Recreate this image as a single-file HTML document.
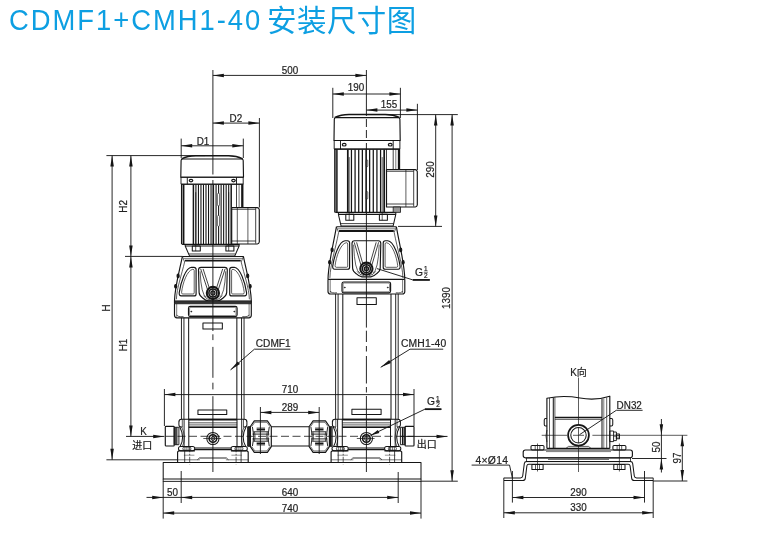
<!DOCTYPE html>
<html lang="zh-CN">
<head>
<meta charset="utf-8">
<title>CDMF1+CMH1-40 安装尺寸图</title>
<style>
html,body{margin:0;padding:0;background:#fff;}
body{width:780px;height:543px;overflow:hidden;position:relative;font-family:"Liberation Sans","Noto Sans CJK SC",sans-serif;}
h1{position:absolute;left:0;top:0;margin:0;font-weight:400;color:#0d9fe2;white-space:nowrap;width:780px;height:40px;}
h1 span{position:absolute;display:block;line-height:32px;height:32px;will-change:transform;}
h1 .la{left:9.3px;top:4.6px;font-size:27.4px;letter-spacing:1.97px;transform:scale(1,1.1);transform-origin:0 25.4px;}
h1 .cj{left:266.7px;top:4.9px;font-size:29.5px;letter-spacing:0.45px;}
svg{position:absolute;left:0;top:0;display:block;will-change:transform;}
svg *{vector-effect:none;}
.d{fill:none;stroke:#151515;stroke-width:0.92;stroke-linecap:butt;stroke-linejoin:round;}
.d .a{fill:#151515;stroke:none;}
.d text{fill:#222;stroke:#222;stroke-width:0.22;font-family:"Liberation Sans","Noto Sans CJK SC",sans-serif;}
</style>
</head>
<body>
<h1><span class="la">CDMF1+CMH1-40</span><span class="cj">安装尺寸图</span></h1>
<svg width="780" height="543" viewBox="0 0 780 543">
<g class="d">
<g class="pumps">
<path d="M180.8,177.2 L181.1,160.6 Q181.1,159 182.7,159 L241.6,159 Q243.2,159 243.2,160.6 L243.5,177.2 Z" stroke-width="1.15"/>
<path d="M181.6,158.8 C185.8,156.8 189.8,155.9 195.8,155.8 L228.5,155.8 C234.5,155.9 238.5,156.8 242.7,158.8" stroke-width="1.49"/>
<rect x="181" y="177.2" width="62.2" height="7" stroke-width="0.92"/>
<line x1="187.3" y1="177.2" x2="187.3" y2="184.2" stroke-width="0.92"/>
<line x1="236.5" y1="177.2" x2="236.5" y2="184.2" stroke-width="0.92"/>
<ellipse cx="191" cy="180.6" rx="1.8" ry="1.25" stroke-width="1.15"/>
<ellipse cx="233.5" cy="180.6" rx="1.8" ry="1.25" stroke-width="1.15"/>
<line x1="181" y1="184.2" x2="243.2" y2="184.2" stroke-width="1.15"/>
<line x1="181.7" y1="184.2" x2="181.7" y2="244.3" stroke-width="1.49"/>
<line x1="183.7" y1="184.2" x2="183.7" y2="244.3" stroke-width="1.49"/>
<line x1="236.5" y1="184.2" x2="236.5" y2="207.6" stroke-width="0.8"/>
<line x1="239.1" y1="184.2" x2="239.1" y2="207.6" stroke-width="0.57"/>
<line x1="242.3" y1="184.2" x2="242.3" y2="207.6" stroke-width="2.3"/>
<line x1="193.4" y1="184.6" x2="193.4" y2="244" stroke-width="1.49"/>
<line x1="195.92" y1="184.6" x2="195.92" y2="244" stroke-width="1.09"/>
<line x1="198.44" y1="184.6" x2="198.44" y2="244" stroke-width="1.09"/>
<line x1="200.96" y1="184.6" x2="200.96" y2="244" stroke-width="1.09"/>
<line x1="203.48" y1="184.6" x2="203.48" y2="244" stroke-width="1.09"/>
<line x1="206" y1="184.6" x2="206" y2="244" stroke-width="1.09"/>
<line x1="208.52" y1="184.6" x2="208.52" y2="244" stroke-width="1.09"/>
<line x1="211.04" y1="184.6" x2="211.04" y2="244" stroke-width="1.09"/>
<line x1="213.56" y1="184.6" x2="213.56" y2="244" stroke-width="1.09"/>
<line x1="216.08" y1="184.6" x2="216.08" y2="244" stroke-width="1.09"/>
<line x1="218.6" y1="184.6" x2="218.6" y2="244" stroke-width="1.09"/>
<line x1="221.12" y1="184.6" x2="221.12" y2="244" stroke-width="1.09"/>
<line x1="223.64" y1="184.6" x2="223.64" y2="244" stroke-width="1.09"/>
<line x1="226.16" y1="184.6" x2="226.16" y2="244" stroke-width="1.09"/>
<line x1="228.68" y1="184.6" x2="228.68" y2="244" stroke-width="1.09"/>
<line x1="231.2" y1="184.6" x2="231.2" y2="244" stroke-width="1.49"/>
<rect x="217.5" y="193.22" width="2" height="12.62" rx="0.9" stroke-width="0.57" fill="#fff"/>
<rect x="217.5" y="215.45" width="2" height="10.82" rx="0.9" stroke-width="0.57" fill="#fff"/>
<line x1="182.1" y1="244.3" x2="239.5" y2="244.3" stroke-width="1.15"/>
<path d="M231.7,207.6 L257.3,207.6 Q259,207.9 259.3,209.6 L259.3,242 Q259,243.7 257.3,244 L231.7,244 Z" stroke-width="1.15" fill="#fff"/>
<line x1="231.7" y1="209.4" x2="255.7" y2="209.4" stroke-width="0.69"/>
<line x1="231.7" y1="241" x2="255.7" y2="241" stroke-width="0.8"/>
<line x1="237.3" y1="207.6" x2="237.3" y2="244" stroke-width="0.69"/>
<line x1="247.9" y1="207.6" x2="247.9" y2="244" stroke-width="0.69"/>
<line x1="255.7" y1="208.1" x2="255.7" y2="243.5" stroke-width="0.8"/>
<path d="M185.2,244.3 L185.2,245.99 L189.6,256.1 L234.7,256.1 L239.1,245.99 L239.1,244.3" stroke-width="1.03"/>
<line x1="185.2" y1="245.99" x2="239.1" y2="245.99" stroke-width="1.03"/>
<line x1="188.94" y1="253.98" x2="235.36" y2="253.98" stroke-width="0.8"/>
<rect x="192.3" y="245.99" width="8" height="5.08" stroke-width="1.03"/>
<line x1="195.7" y1="192.2" x2="195.7" y2="251.08" stroke-width="0.69"/>
<rect x="225.9" y="245.99" width="8" height="5.08" stroke-width="1.03"/>
<line x1="228.7" y1="192.2" x2="228.7" y2="251.08" stroke-width="0.69"/>
<line x1="182.4" y1="256.4" x2="243.4" y2="256.4" stroke-width="1.03"/>
<line x1="185" y1="260.6" x2="240.8" y2="260.6" stroke-width="1.95"/>
<line x1="183.8" y1="258.4" x2="242" y2="258.4" stroke-width="0.57"/>
<path d="M182.4,256.4 C179.1,272.38 174.8,287.48 174.5,300.8 L174.5,303.8" stroke-width="1.15"/>
<path d="M184.6,262 C181.8,274.16 176.7,288.37 176.4,299.3" stroke-width="0.69"/>
<line x1="182.4" y1="256.4" x2="184.6" y2="262" stroke-width="0.69"/>
<ellipse cx="178.1" cy="275.94" rx="1.1" ry="1.9" stroke-width="1.03" fill="#151515"/>
<ellipse cx="175.7" cy="286.37" rx="1.1" ry="1.9" stroke-width="1.03" fill="#151515"/>
<path d="M196.1,293.9 L196.1,269.5 Q196.1,267.3 193.9,267.3 L191.5,267.3 C185.6,267.9 180.8,282.17 179.2,292.9 Q179,295.9 181.2,295.9 L194.1,295.9 Q196.1,295.9 196.1,293.9 Z" stroke-width="1.15"/>
<path d="M194.2,292.9 L194.2,270.5 Q194.2,269.3 192.7,269.3 C187.1,270.3 182.6,283.32 181.6,292.3 Q181.4,294 182.8,294 L193.1,294 Q194.2,294 194.2,292.9 Z" stroke-width="0.69"/>
<path d="M243.4,256.4 C246.7,272.38 251,287.48 251.3,300.8 L251.3,303.8" stroke-width="1.15"/>
<path d="M241.2,262 C244,274.16 249.1,288.37 249.4,299.3" stroke-width="0.69"/>
<line x1="243.4" y1="256.4" x2="241.2" y2="262" stroke-width="0.69"/>
<ellipse cx="247.7" cy="275.94" rx="1.1" ry="1.9" stroke-width="1.03" fill="#151515"/>
<ellipse cx="250.1" cy="286.37" rx="1.1" ry="1.9" stroke-width="1.03" fill="#151515"/>
<path d="M229.7,293.9 L229.7,269.5 Q229.7,267.3 231.9,267.3 L234.3,267.3 C240.2,267.9 245,282.17 246.6,292.9 Q246.8,295.9 244.6,295.9 L231.7,295.9 Q229.7,295.9 229.7,293.9 Z" stroke-width="1.15"/>
<path d="M231.6,292.9 L231.6,270.5 Q231.6,269.3 233.1,269.3 C238.7,270.3 243.2,283.32 244.2,292.3 Q244.4,294 243,294 L232.7,294 Q231.6,294 231.6,292.9 Z" stroke-width="0.69"/>
<path d="M201.1,267.3 Q198.5,267.3 198.5,270.1 L199.1,292.5 Q199.3,295.6 202.7,298 Q205.7,300.8 208.4,300.8 L217.4,300.8 Q220.1,300.8 223.1,298 Q226.5,295.6 226.7,292.5 L227.3,270.1 Q227.3,267.3 224.7,267.3 Z" stroke-width="1.15"/>
<line x1="200.7" y1="268.9" x2="207.5" y2="289.6" stroke-width="0.8"/>
<line x1="203.1" y1="268.9" x2="209.3" y2="288" stroke-width="0.8"/>
<path d="M200.1,271.3 Q201.1,295.2 206.5,297.4" stroke-width="0.69"/>
<path d="M203.5,295.6 Q205.9,299.4 210.4,300" stroke-width="0.69"/>
<line x1="225.1" y1="268.9" x2="218.3" y2="289.6" stroke-width="0.8"/>
<line x1="222.7" y1="268.9" x2="216.5" y2="288" stroke-width="0.8"/>
<path d="M225.7,271.3 Q224.7,295.2 219.3,297.4" stroke-width="0.69"/>
<path d="M222.3,295.6 Q219.9,299.4 215.4,300" stroke-width="0.69"/>
<circle cx="212.9" cy="293" r="6.1" stroke-width="2.07" fill="#fff"/>
<circle cx="212.9" cy="293" r="4" stroke-width="1.61"/>
<circle cx="212.9" cy="293" r="2.1" stroke-width="1.15" fill="#777"/>
<rect x="174.5" y="300.8" width="76.8" height="3" stroke-width="0.69" fill="#333"/>
<path d="M174.5,303.8 L174.5,315.3 Q174.5,317.8 177,317.8 L248.8,317.8 Q251.3,317.8 251.3,315.3 L251.3,303.8" stroke-width="1.15"/>
<line x1="176.7" y1="303.8" x2="176.7" y2="316.8" stroke-width="0.57"/>
<line x1="249.1" y1="303.8" x2="249.1" y2="316.8" stroke-width="0.57"/>
<path d="M176.7,314.8 Q177.5,317.2 183.5,316.6" stroke-width="0.69"/>
<path d="M249.1,314.8 Q248.3,317.2 242.3,316.6" stroke-width="0.69"/>
<rect x="188.5" y="306.4" width="48.6" height="10.2" rx="1.8" stroke-width="1.15"/>
<rect x="189.6" y="307.4" width="46.4" height="8.2" rx="1.2" stroke-width="0.52"/>
<circle cx="191.3" cy="311.6" r="0.5" stroke-width="0.69" fill="#151515"/>
<circle cx="234.3" cy="311.6" r="0.5" stroke-width="0.69" fill="#151515"/>
<line x1="181.45" y1="317.8" x2="181.45" y2="419.3" stroke-width="0.92"/>
<line x1="183.95" y1="317.8" x2="183.95" y2="419.3" stroke-width="0.92"/>
<line x1="188.65" y1="317.8" x2="188.65" y2="419.3" stroke-width="1.03"/>
<line x1="244.05" y1="317.8" x2="244.05" y2="419.3" stroke-width="0.92"/>
<line x1="241.55" y1="317.8" x2="241.55" y2="419.3" stroke-width="0.92"/>
<line x1="236.85" y1="317.8" x2="236.85" y2="419.3" stroke-width="1.03"/>
<rect x="202.95" y="323" width="19.4" height="6.1" stroke-width="1.03"/>
<rect x="197.95" y="410" width="28.8" height="4.5" stroke-width="1.03"/>
<path d="M178.9,422 Q178.9,419.2 181.5,419.2 L244.3,419.2 Q246.9,419.2 246.9,422" stroke-width="1.15"/>
<line x1="188.7" y1="419.7" x2="237.1" y2="419.7" stroke-width="1.72"/>
<line x1="188.7" y1="422.8" x2="237.1" y2="422.8" stroke-width="0.69"/>
<line x1="188.7" y1="424.4" x2="237.1" y2="424.4" stroke-width="0.46"/>
<line x1="188.7" y1="425.9" x2="237.1" y2="425.9" stroke-width="0.46"/>
<line x1="188.7" y1="427.3" x2="237.1" y2="427.3" stroke-width="1.38"/>
<path d="M178.9,422 L178.9,424.8 Q178.9,426.8 181.1,427 L182.3,427" stroke-width="1.03"/>
<line x1="182.3" y1="419.2" x2="182.3" y2="427" stroke-width="0.69"/>
<path d="M179.7,426.8 Q185.3,437.3 180.1,446.6" stroke-width="1.03"/>
<path d="M181.7,427 Q186.7,437.3 182.3,446.8" stroke-width="0.69"/>
<rect x="178.5" y="446.5" width="16.2" height="4.3" rx="2" stroke-width="1.03" fill="#fff"/>
<rect x="182.9" y="447.1" width="8" height="3.1" rx="1.2" stroke-width="0.69"/>
<line x1="188.9" y1="447.1" x2="188.9" y2="450.2" stroke-width="0.57"/>
<line x1="186.9" y1="447.1" x2="186.9" y2="450.2" stroke-width="0.57"/>
<line x1="184.9" y1="447.1" x2="184.9" y2="450.2" stroke-width="0.57"/>
<line x1="184.1" y1="419.2" x2="184.1" y2="446.5" stroke-width="0.92"/>
<line x1="188.8" y1="419.2" x2="188.8" y2="446.5" stroke-width="1.03"/>
<path d="M246.9,422 L246.9,424.8 Q246.9,426.8 244.7,427 L243.5,427" stroke-width="1.03"/>
<line x1="243.5" y1="419.2" x2="243.5" y2="427" stroke-width="0.69"/>
<path d="M246.1,426.8 Q240.5,437.3 245.7,446.6" stroke-width="1.03"/>
<path d="M244.1,427 Q239.1,437.3 243.5,446.8" stroke-width="0.69"/>
<rect x="231.1" y="446.5" width="16.2" height="4.3" rx="2" stroke-width="1.03" fill="#fff"/>
<rect x="234.9" y="447.1" width="8" height="3.1" rx="1.2" stroke-width="0.69"/>
<line x1="236.9" y1="447.1" x2="236.9" y2="450.2" stroke-width="0.57"/>
<line x1="238.9" y1="447.1" x2="238.9" y2="450.2" stroke-width="0.57"/>
<line x1="240.9" y1="447.1" x2="240.9" y2="450.2" stroke-width="0.57"/>
<line x1="241.7" y1="419.2" x2="241.7" y2="446.5" stroke-width="0.92"/>
<line x1="237" y1="419.2" x2="237" y2="446.5" stroke-width="1.03"/>
<line x1="194.7" y1="449.4" x2="231.1" y2="449.4" stroke-width="1.72"/>
<line x1="194.7" y1="447.6" x2="231.1" y2="447.6" stroke-width="0.57"/>
<circle cx="212.9" cy="438.5" r="6.1" stroke-width="1.03"/>
<circle cx="212.9" cy="438.5" r="3.8" stroke-width="1.61"/>
<circle cx="212.9" cy="438.5" r="1.9" stroke-width="0.92"/>
<line x1="203.3" y1="438.5" x2="221.1" y2="438.5" stroke-width="0.69"/>
<path d="M177.6,462.2 L177.6,452 L178.7,450.8 L194.9,450.8" stroke-width="1.15"/>
<line x1="184.7" y1="450.8" x2="184.7" y2="462.2" stroke-width="0.8"/>
<line x1="189.7" y1="446.3" x2="189.7" y2="464.6" stroke-width="0.69" stroke-dasharray="6 1.5 1.5 1.5"/>
<line x1="199.9" y1="459.8" x2="177.6" y2="459.8" stroke-width="0.57"/>
<line x1="199.3" y1="458" x2="197.3" y2="459.8" stroke-width="0.69"/>
<line x1="183.9" y1="455.2" x2="194.4" y2="455.2" stroke-width="0.46"/>
<path d="M248.2,462.2 L248.2,452 L247.1,450.8 L230.9,450.8" stroke-width="1.15"/>
<line x1="241.1" y1="450.8" x2="241.1" y2="462.2" stroke-width="0.8"/>
<line x1="236.1" y1="446.3" x2="236.1" y2="464.6" stroke-width="0.69" stroke-dasharray="6 1.5 1.5 1.5"/>
<line x1="225.9" y1="459.8" x2="248.2" y2="459.8" stroke-width="0.57"/>
<line x1="226.5" y1="458" x2="228.5" y2="459.8" stroke-width="0.69"/>
<line x1="241.9" y1="455.2" x2="231.4" y2="455.2" stroke-width="0.46"/>
<line x1="199.3" y1="458" x2="226.5" y2="458" stroke-width="0.92"/>
<rect x="165.3" y="426.3" width="8.9" height="19.7" rx="0.8" stroke-width="1.15"/>
<rect x="174.2" y="427.3" width="4.7" height="17.4" stroke-width="0.92"/>
<line x1="175.2" y1="427.3" x2="175.2" y2="444.7" stroke-width="1.15"/>
<line x1="176.8" y1="427.3" x2="176.8" y2="444.7" stroke-width="1.15"/>
<rect x="247.6" y="426.7" width="2.8" height="19.6" stroke-width="0.92"/>
<line x1="249" y1="426.7" x2="249" y2="446.3" stroke-width="1.84"/>
<path d="M254.3,420.9 L267.4,420.9 L271.3,426.5 L271.3,446.7 L267.4,452.3 L254.3,452.3 L250.4,446.7 L250.4,426.5 Z" stroke-width="1.15" fill="#fff"/>
<path d="M251.6,426.9 L254.8,422.3 L266.9,422.3 L270.1,426.9" stroke-width="0.57"/>
<path d="M251.6,446.3 L254.8,450.9 L266.9,450.9 L270.1,446.3" stroke-width="0.57"/>
<line x1="256.65" y1="429.5" x2="265.05" y2="429.5" stroke-width="1.95"/>
<line x1="256.65" y1="427.9" x2="265.05" y2="427.9" stroke-width="0.57"/>
<line x1="253.4" y1="431.8" x2="268.3" y2="431.8" stroke-width="0.92"/>
<line x1="252.4" y1="434.1" x2="269.3" y2="434.1" stroke-width="0.92"/>
<path d="M252.45,427 Q255.25,436.5 252.45,446" stroke-width="0.92"/>
<path d="M254.45,431.8 Q255.85,436.5 254.45,441.2" stroke-width="0.69"/>
<line x1="256.65" y1="443.5" x2="265.05" y2="443.5" stroke-width="1.95"/>
<line x1="256.65" y1="445.1" x2="265.05" y2="445.1" stroke-width="0.57"/>
<line x1="253.4" y1="441.2" x2="268.3" y2="441.2" stroke-width="0.92"/>
<line x1="252.4" y1="438.9" x2="269.3" y2="438.9" stroke-width="0.92"/>
<path d="M269.25,427 Q266.45,436.5 269.25,446" stroke-width="0.92"/>
<path d="M267.25,431.8 Q265.85,436.5 267.25,441.2" stroke-width="0.69"/>
<line x1="271.3" y1="426.7" x2="309.2" y2="426.7" stroke-width="1.03"/>
<line x1="271.3" y1="445.9" x2="309.2" y2="445.9" stroke-width="1.03"/>
<path d="M334,140.5 L334.3,119.2 Q334.3,117.6 335.9,117.6 L398.3,117.6 Q399.9,117.6 399.9,119.2 L400.2,140.5 Z" stroke-width="1.15"/>
<path d="M334.8,117.4 C339,115.4 343,114.5 349,114.4 L385.2,114.4 C391.2,114.5 395.2,115.4 399.4,117.4" stroke-width="1.49"/>
<rect x="334.2" y="140.5" width="65.7" height="8.6" stroke-width="0.92"/>
<line x1="340.5" y1="140.5" x2="340.5" y2="149.1" stroke-width="0.92"/>
<line x1="393.2" y1="140.5" x2="393.2" y2="149.1" stroke-width="0.92"/>
<ellipse cx="344.2" cy="144.7" rx="1.9" ry="1.3" stroke-width="1.15"/>
<ellipse cx="390.2" cy="144.7" rx="1.9" ry="1.3" stroke-width="1.15"/>
<line x1="334.2" y1="149.1" x2="399.9" y2="149.1" stroke-width="1.15"/>
<line x1="334.9" y1="149.1" x2="334.9" y2="212.4" stroke-width="1.49"/>
<line x1="336.9" y1="149.1" x2="336.9" y2="212.4" stroke-width="1.49"/>
<line x1="393.2" y1="149.1" x2="393.2" y2="169.6" stroke-width="0.8"/>
<line x1="395.8" y1="149.1" x2="395.8" y2="169.6" stroke-width="0.57"/>
<line x1="399" y1="149.1" x2="399" y2="169.6" stroke-width="2.3"/>
<line x1="347.8" y1="149.5" x2="347.8" y2="212.1" stroke-width="1.72"/>
<line x1="351.44" y1="149.5" x2="351.44" y2="212.1" stroke-width="1.26"/>
<line x1="355.08" y1="149.5" x2="355.08" y2="212.1" stroke-width="1.26"/>
<line x1="358.72" y1="149.5" x2="358.72" y2="212.1" stroke-width="1.26"/>
<line x1="362.36" y1="149.5" x2="362.36" y2="212.1" stroke-width="1.26"/>
<line x1="366" y1="149.5" x2="366" y2="212.1" stroke-width="1.26"/>
<line x1="369.64" y1="149.5" x2="369.64" y2="212.1" stroke-width="1.26"/>
<line x1="373.28" y1="149.5" x2="373.28" y2="212.1" stroke-width="1.26"/>
<line x1="376.92" y1="149.5" x2="376.92" y2="212.1" stroke-width="1.26"/>
<line x1="380.56" y1="149.5" x2="380.56" y2="212.1" stroke-width="1.26"/>
<line x1="384.2" y1="149.5" x2="384.2" y2="212.1" stroke-width="1.72"/>
<rect x="365.8" y="159.86" width="2" height="6.96" rx="0.9" stroke-width="0.57" fill="#ddd"/>
<rect x="365.8" y="191.51" width="2" height="7.6" rx="0.9" stroke-width="0.57" fill="#ddd"/>
<line x1="335.3" y1="212.4" x2="396.2" y2="212.4" stroke-width="1.15"/>
<line x1="386.5" y1="149.1" x2="386.5" y2="169.6" stroke-width="0.8"/>
<path d="M386.5,169.6 L415.3,169.6 Q417,169.9 417.3,171.6 L417.3,205 Q417,206.7 415.3,207 L386.5,207 Z" stroke-width="1.15" fill="#fff"/>
<line x1="386.5" y1="171.4" x2="413.7" y2="171.4" stroke-width="0.69"/>
<line x1="386.5" y1="204" x2="413.7" y2="204" stroke-width="0.8"/>
<line x1="405.9" y1="169.6" x2="405.9" y2="207" stroke-width="0.69"/>
<line x1="413.7" y1="170.1" x2="413.7" y2="206.5" stroke-width="0.8"/>
<path d="M338.4,212.4 L338.4,214.36 L341.1,226.1 L393.1,226.1 L395.8,214.36 L395.8,212.4" stroke-width="1.03"/>
<line x1="338.4" y1="214.36" x2="395.8" y2="214.36" stroke-width="1.03"/>
<line x1="340.69" y1="223.6" x2="393.5" y2="223.6" stroke-width="0.8"/>
<rect x="345.8" y="214.36" width="8" height="5.88" stroke-width="1.03"/>
<line x1="349.2" y1="157.1" x2="349.2" y2="220.24" stroke-width="0.69"/>
<rect x="379.4" y="214.36" width="8" height="5.88" stroke-width="1.03"/>
<line x1="382.2" y1="157.1" x2="382.2" y2="220.24" stroke-width="0.69"/>
<rect x="393.2" y="207" width="7.3" height="5.4" stroke-width="0.8" fill="#999"/>
<line x1="336.4" y1="226.8" x2="396.4" y2="226.8" stroke-width="1.03"/>
<line x1="339" y1="231" x2="393.8" y2="231" stroke-width="1.95"/>
<line x1="337.8" y1="228.8" x2="395" y2="228.8" stroke-width="0.57"/>
<path d="M336.4,226.8 C333.1,245.74 328.3,263.62 328,279.4 L328,279.4" stroke-width="1.15"/>
<path d="M338.6,232.4 C335.8,247.84 330.2,264.67 329.9,277.9" stroke-width="0.69"/>
<line x1="336.4" y1="226.8" x2="338.6" y2="232.4" stroke-width="0.69"/>
<ellipse cx="332.1" cy="249.94" rx="1.1" ry="1.9" stroke-width="1.03" fill="#151515"/>
<ellipse cx="329.7" cy="262.31" rx="1.1" ry="1.9" stroke-width="1.03" fill="#151515"/>
<path d="M349.6,267.2 L349.6,242.9 Q349.6,240.7 347.4,240.7 L345,240.7 C339.1,241.3 334.3,255.52 332.7,266.2 Q332.5,269.2 334.7,269.2 L347.6,269.2 Q349.6,269.2 349.6,267.2 Z" stroke-width="1.15"/>
<path d="M347.7,266.2 L347.7,243.9 Q347.7,242.7 346.2,242.7 C340.6,243.7 336.1,256.66 335.1,265.6 Q334.9,267.3 336.3,267.3 L346.6,267.3 Q347.7,267.3 347.7,266.2 Z" stroke-width="0.69"/>
<path d="M396.4,226.8 C399.7,245.74 404.5,263.62 404.8,279.4 L404.8,279.4" stroke-width="1.15"/>
<path d="M394.2,232.4 C397,247.84 402.6,264.67 402.9,277.9" stroke-width="0.69"/>
<line x1="396.4" y1="226.8" x2="394.2" y2="232.4" stroke-width="0.69"/>
<ellipse cx="400.7" cy="249.94" rx="1.1" ry="1.9" stroke-width="1.03" fill="#151515"/>
<ellipse cx="403.1" cy="262.31" rx="1.1" ry="1.9" stroke-width="1.03" fill="#151515"/>
<path d="M383.2,267.2 L383.2,242.9 Q383.2,240.7 385.4,240.7 L387.8,240.7 C393.7,241.3 398.5,255.52 400.1,266.2 Q400.3,269.2 398.1,269.2 L385.2,269.2 Q383.2,269.2 383.2,267.2 Z" stroke-width="1.15"/>
<path d="M385.1,266.2 L385.1,243.9 Q385.1,242.7 386.6,242.7 C392.2,243.7 396.7,256.66 397.7,265.6 Q397.9,267.3 396.5,267.3 L386.2,267.3 Q385.1,267.3 385.1,266.2 Z" stroke-width="0.69"/>
<path d="M354.6,240.7 Q352,240.7 352,243.5 L352.6,268.2 Q352.8,271.3 356.2,273.7 Q359.2,276.8 361.9,276.8 L370.9,276.8 Q373.6,276.8 376.6,273.7 Q380,271.3 380.2,268.2 L380.8,243.5 Q380.8,240.7 378.2,240.7 Z" stroke-width="1.15"/>
<line x1="354.2" y1="242.3" x2="361" y2="265.3" stroke-width="0.8"/>
<line x1="356.6" y1="242.3" x2="362.8" y2="263.7" stroke-width="0.8"/>
<path d="M353.6,244.7 Q354.6,270.9 360,273.1" stroke-width="0.69"/>
<path d="M357,271.3 Q359.4,275.1 363.9,275.7" stroke-width="0.69"/>
<line x1="378.6" y1="242.3" x2="371.8" y2="265.3" stroke-width="0.8"/>
<line x1="376.2" y1="242.3" x2="370" y2="263.7" stroke-width="0.8"/>
<path d="M379.2,244.7 Q378.2,270.9 372.8,273.1" stroke-width="0.69"/>
<path d="M375.8,271.3 Q373.4,275.1 368.9,275.7" stroke-width="0.69"/>
<circle cx="366.4" cy="268.7" r="6.1" stroke-width="2.07" fill="#fff"/>
<circle cx="366.4" cy="268.7" r="4" stroke-width="1.61"/>
<circle cx="366.4" cy="268.7" r="2.1" stroke-width="1.15" fill="#777"/>
<line x1="328" y1="279.4" x2="404.8" y2="279.4" stroke-width="1.26"/>
<path d="M328,279.4 L328,291.5 Q328,294 330.5,294 L402.3,294 Q404.8,294 404.8,291.5 L404.8,279.4" stroke-width="1.15"/>
<line x1="330.2" y1="279.4" x2="330.2" y2="293" stroke-width="0.57"/>
<line x1="402.6" y1="279.4" x2="402.6" y2="293" stroke-width="0.57"/>
<path d="M330.2,291 Q331,293.4 337,292.8" stroke-width="0.69"/>
<path d="M402.6,291 Q401.8,293.4 395.8,292.8" stroke-width="0.69"/>
<rect x="342" y="282" width="48.6" height="10.8" rx="1.8" stroke-width="1.15"/>
<rect x="343.1" y="283" width="46.4" height="8.8" rx="1.2" stroke-width="0.52"/>
<circle cx="344.8" cy="287.5" r="0.5" stroke-width="0.69" fill="#151515"/>
<circle cx="387.8" cy="287.5" r="0.5" stroke-width="0.69" fill="#151515"/>
<line x1="335.6" y1="294" x2="335.6" y2="419.3" stroke-width="0.92"/>
<line x1="338.1" y1="294" x2="338.1" y2="419.3" stroke-width="0.92"/>
<line x1="342.8" y1="294" x2="342.8" y2="419.3" stroke-width="1.03"/>
<line x1="398.2" y1="294" x2="398.2" y2="419.3" stroke-width="0.92"/>
<line x1="395.7" y1="294" x2="395.7" y2="419.3" stroke-width="0.92"/>
<line x1="391" y1="294" x2="391" y2="419.3" stroke-width="1.03"/>
<rect x="357" y="297.8" width="19.3" height="6.6" stroke-width="1.03"/>
<rect x="351.9" y="409.2" width="29.2" height="5.2" stroke-width="1.03"/>
<path d="M332.4,422 Q332.4,419.2 335,419.2 L397.8,419.2 Q400.4,419.2 400.4,422" stroke-width="1.15"/>
<line x1="342.2" y1="419.7" x2="390.6" y2="419.7" stroke-width="1.72"/>
<line x1="342.2" y1="422.8" x2="390.6" y2="422.8" stroke-width="0.69"/>
<line x1="342.2" y1="424.4" x2="390.6" y2="424.4" stroke-width="0.46"/>
<line x1="342.2" y1="425.9" x2="390.6" y2="425.9" stroke-width="0.46"/>
<line x1="342.2" y1="427.3" x2="390.6" y2="427.3" stroke-width="1.38"/>
<path d="M332.4,422 L332.4,424.8 Q332.4,426.8 334.6,427 L335.8,427" stroke-width="1.03"/>
<line x1="335.8" y1="419.2" x2="335.8" y2="427" stroke-width="0.69"/>
<path d="M333.2,426.8 Q338.8,437.3 333.6,446.6" stroke-width="1.03"/>
<path d="M335.2,427 Q340.2,437.3 335.8,446.8" stroke-width="0.69"/>
<rect x="332" y="446.5" width="16.2" height="4.3" rx="2" stroke-width="1.03" fill="#fff"/>
<rect x="336.4" y="447.1" width="8" height="3.1" rx="1.2" stroke-width="0.69"/>
<line x1="342.4" y1="447.1" x2="342.4" y2="450.2" stroke-width="0.57"/>
<line x1="340.4" y1="447.1" x2="340.4" y2="450.2" stroke-width="0.57"/>
<line x1="338.4" y1="447.1" x2="338.4" y2="450.2" stroke-width="0.57"/>
<line x1="337.6" y1="419.2" x2="337.6" y2="446.5" stroke-width="0.92"/>
<line x1="342.3" y1="419.2" x2="342.3" y2="446.5" stroke-width="1.03"/>
<path d="M400.4,422 L400.4,424.8 Q400.4,426.8 398.2,427 L397,427" stroke-width="1.03"/>
<line x1="397" y1="419.2" x2="397" y2="427" stroke-width="0.69"/>
<path d="M399.6,426.8 Q394,437.3 399.2,446.6" stroke-width="1.03"/>
<path d="M397.6,427 Q392.6,437.3 397,446.8" stroke-width="0.69"/>
<rect x="384.6" y="446.5" width="16.2" height="4.3" rx="2" stroke-width="1.03" fill="#fff"/>
<rect x="388.4" y="447.1" width="8" height="3.1" rx="1.2" stroke-width="0.69"/>
<line x1="390.4" y1="447.1" x2="390.4" y2="450.2" stroke-width="0.57"/>
<line x1="392.4" y1="447.1" x2="392.4" y2="450.2" stroke-width="0.57"/>
<line x1="394.4" y1="447.1" x2="394.4" y2="450.2" stroke-width="0.57"/>
<line x1="395.2" y1="419.2" x2="395.2" y2="446.5" stroke-width="0.92"/>
<line x1="390.5" y1="419.2" x2="390.5" y2="446.5" stroke-width="1.03"/>
<line x1="348.2" y1="449.4" x2="384.6" y2="449.4" stroke-width="1.72"/>
<line x1="348.2" y1="447.6" x2="384.6" y2="447.6" stroke-width="0.57"/>
<circle cx="366.4" cy="438.5" r="6.1" stroke-width="1.03"/>
<circle cx="366.4" cy="438.5" r="3.8" stroke-width="1.61"/>
<circle cx="366.4" cy="438.5" r="1.9" stroke-width="0.92"/>
<line x1="356.8" y1="438.5" x2="374.6" y2="438.5" stroke-width="0.69"/>
<path d="M331.1,462.2 L331.1,452 L332.2,450.8 L348.4,450.8" stroke-width="1.15"/>
<line x1="338.2" y1="450.8" x2="338.2" y2="462.2" stroke-width="0.8"/>
<line x1="343.2" y1="446.3" x2="343.2" y2="464.6" stroke-width="0.69" stroke-dasharray="6 1.5 1.5 1.5"/>
<line x1="353.4" y1="459.8" x2="331.1" y2="459.8" stroke-width="0.57"/>
<line x1="352.8" y1="458" x2="350.8" y2="459.8" stroke-width="0.69"/>
<line x1="337.4" y1="455.2" x2="347.9" y2="455.2" stroke-width="0.46"/>
<path d="M401.7,462.2 L401.7,452 L400.6,450.8 L384.4,450.8" stroke-width="1.15"/>
<line x1="394.6" y1="450.8" x2="394.6" y2="462.2" stroke-width="0.8"/>
<line x1="389.6" y1="446.3" x2="389.6" y2="464.6" stroke-width="0.69" stroke-dasharray="6 1.5 1.5 1.5"/>
<line x1="379.4" y1="459.8" x2="401.7" y2="459.8" stroke-width="0.57"/>
<line x1="380" y1="458" x2="382" y2="459.8" stroke-width="0.69"/>
<line x1="395.4" y1="455.2" x2="384.9" y2="455.2" stroke-width="0.46"/>
<line x1="352.8" y1="458" x2="380" y2="458" stroke-width="0.92"/>
<rect x="405.1" y="426.3" width="8.9" height="19.7" rx="0.8" stroke-width="1.15"/>
<rect x="400.4" y="427.3" width="4.7" height="17.4" stroke-width="0.92"/>
<line x1="404.1" y1="427.3" x2="404.1" y2="444.7" stroke-width="1.15"/>
<line x1="402.5" y1="427.3" x2="402.5" y2="444.7" stroke-width="1.15"/>
<rect x="329.4" y="426.7" width="2.8" height="19.6" stroke-width="0.92"/>
<line x1="330.8" y1="426.7" x2="330.8" y2="446.3" stroke-width="1.84"/>
<path d="M313.1,420.9 L325.5,420.9 L329.4,426.5 L329.4,446.7 L325.5,452.3 L313.1,452.3 L309.2,446.7 L309.2,426.5 Z" stroke-width="1.15" fill="#fff"/>
<path d="M310.4,426.9 L313.6,422.3 L325,422.3 L328.2,426.9" stroke-width="0.57"/>
<path d="M310.4,446.3 L313.6,450.9 L325,450.9 L328.2,446.3" stroke-width="0.57"/>
<line x1="315.1" y1="429.5" x2="323.5" y2="429.5" stroke-width="1.95"/>
<line x1="315.1" y1="427.9" x2="323.5" y2="427.9" stroke-width="0.57"/>
<line x1="312.2" y1="431.8" x2="326.4" y2="431.8" stroke-width="0.92"/>
<line x1="311.2" y1="434.1" x2="327.4" y2="434.1" stroke-width="0.92"/>
<path d="M310.9,427 Q313.7,436.5 310.9,446" stroke-width="0.92"/>
<path d="M312.9,431.8 Q314.3,436.5 312.9,441.2" stroke-width="0.69"/>
<line x1="315.1" y1="443.5" x2="323.5" y2="443.5" stroke-width="1.95"/>
<line x1="315.1" y1="445.1" x2="323.5" y2="445.1" stroke-width="0.57"/>
<line x1="312.2" y1="441.2" x2="326.4" y2="441.2" stroke-width="0.92"/>
<line x1="311.2" y1="438.9" x2="327.4" y2="438.9" stroke-width="0.92"/>
<path d="M327.7,427 Q324.9,436.5 327.7,446" stroke-width="0.92"/>
<path d="M325.7,431.8 Q324.3,436.5 325.7,441.2" stroke-width="0.69"/>
<line x1="212.9" y1="70" x2="212.9" y2="174.5" stroke-width="0.92"/>
<line x1="212.9" y1="180" x2="212.9" y2="331" stroke-width="0.92"/>
<line x1="212.9" y1="334.3" x2="212.9" y2="340.1" stroke-width="0.92"/>
<line x1="212.9" y1="346.9" x2="212.9" y2="377.8" stroke-width="0.92"/>
<line x1="212.9" y1="382.7" x2="212.9" y2="389.4" stroke-width="0.92"/>
<line x1="212.9" y1="396.2" x2="212.9" y2="472" stroke-width="0.92"/>
<line x1="366.4" y1="70" x2="366.4" y2="116" stroke-width="0.92"/>
<line x1="366.4" y1="119" x2="366.4" y2="139" stroke-width="0.92" stroke-dasharray="8 3"/>
<line x1="366.4" y1="143" x2="366.4" y2="327.6" stroke-width="0.92"/>
<line x1="366.4" y1="330.7" x2="366.4" y2="342" stroke-width="0.92"/>
<line x1="366.4" y1="346" x2="366.4" y2="351.5" stroke-width="0.92"/>
<line x1="366.4" y1="356" x2="366.4" y2="383.5" stroke-width="0.92"/>
<line x1="366.4" y1="387" x2="366.4" y2="392.5" stroke-width="0.92"/>
<line x1="366.4" y1="396" x2="366.4" y2="472" stroke-width="0.92"/>
<line x1="166" y1="436.3" x2="414" y2="436.3" stroke-width="0.8" stroke-dasharray="8 3.5"/>
<rect x="163.2" y="462.4" width="257.8" height="16.5" stroke-width="1.03"/>
<line x1="163.2" y1="481.4" x2="421" y2="481.4" stroke-width="0.92"/>
<line x1="163.2" y1="478.9" x2="163.2" y2="481.4" stroke-width="0.92"/>
<line x1="421" y1="478.9" x2="421" y2="481.4" stroke-width="0.92"/>
</g>
<g class="kview">
<text font-size="10.3" transform="translate(578.5 375.8) scale(0.97 1)" text-anchor="middle">K向</text>
<line x1="578.5" y1="377.5" x2="578.5" y2="472" stroke-width="0.69"/>
<path d="M546.9,448.4 L546.9,398.2 C560,395.6 570,396.2 580,398 C590,399.8 600,399.4 609.8,396.2 L609.8,448.4" stroke-width="1.15"/>
<line x1="549.5" y1="398" x2="549.5" y2="448.4" stroke-width="0.69"/>
<line x1="553.3" y1="397.4" x2="553.3" y2="448.4" stroke-width="1.03"/>
<line x1="554.9" y1="397.2" x2="554.9" y2="448.4" stroke-width="0.69"/>
<line x1="602" y1="398.6" x2="602" y2="448.4" stroke-width="1.03"/>
<line x1="603.8" y1="398.3" x2="603.8" y2="448.4" stroke-width="0.57"/>
<line x1="606.7" y1="397.4" x2="606.7" y2="448.4" stroke-width="0.69"/>
<line x1="554.9" y1="417.5" x2="602" y2="417.5" stroke-width="1.26"/>
<line x1="554.9" y1="419.4" x2="602" y2="419.4" stroke-width="0.69"/>
<path d="M547.05,418.4 L545.65,418.4 Q544.25,418.4 544.25,420 L544.25,424.4 Q544.25,426 545.65,426 L547.05,426" stroke-width="1.03"/>
<path d="M609.95,418.4 L611.35,418.4 Q612.75,418.4 612.75,420 L612.75,424.4 Q612.75,426 611.35,426 L609.95,426" stroke-width="1.03"/>
<line x1="546.9" y1="448.4" x2="609.8" y2="448.4" stroke-width="1.15"/>
<path d="M566,448.4 L568.5,446.4 L588.5,446.4 L591,448.4" stroke-width="0.69"/>
<circle cx="578.5" cy="435.3" r="10.4" stroke-width="1.72" fill="#fff"/>
<circle cx="578.5" cy="435.3" r="7.7" stroke-width="1.03"/>
<line x1="541.7" y1="435.3" x2="567" y2="435.3" stroke-width="0.69"/>
<line x1="573" y1="435.3" x2="584" y2="435.3" stroke-width="0.69"/>
<line x1="592.4" y1="435.3" x2="687.4" y2="435.3" stroke-width="0.69"/>
<line x1="578.5" y1="428" x2="578.5" y2="443" stroke-width="0.69"/>
<rect x="609.8" y="431" width="3.8" height="10.6" stroke-width="0.92"/>
<path d="M613.6,432 L616.4,432 L616.4,440.6 L613.6,440.6" stroke-width="0.92"/>
<line x1="613.6" y1="436.3" x2="616.4" y2="436.3" stroke-width="0.57"/>
<rect x="616.4" y="434" width="3" height="4.8" stroke-width="1.03"/>
<line x1="616.4" y1="435.6" x2="619.4" y2="435.6" stroke-width="0.57"/>
<line x1="616.4" y1="437.2" x2="619.4" y2="437.2" stroke-width="0.57"/>
<path d="M546.9,430 Q545,436 546.9,442" stroke-width="0.69"/>
<rect x="523.2" y="450" width="109.2" height="7.8" rx="2.2" stroke-width="1.15"/>
<line x1="546" y1="451.6" x2="611" y2="451.6" stroke-width="0.57"/>
<rect x="526.5" y="457.8" width="104" height="3.8" stroke-width="0.8"/>
<line x1="548" y1="459.4" x2="609" y2="459.4" stroke-width="0.69"/>
<path d="M503.8,477.9 L520.4,477.9 Q522.4,477.9 522.7,476 L524.3,463.6 Q524.6,461.6 526.6,461.6 L630.4,461.6 Q632.4,461.6 632.7,463.6 L634.3,476 Q634.6,477.9 636.6,477.9 L653.2,477.9" stroke-width="1.03"/>
<path d="M503.8,480.6 L522.6,480.6 Q525.0,480.6 525.3,478.4 L526.9,465.8 Q527.1,464.2 528.8,464.2 L628.2,464.2 Q629.9,464.2 630.1,465.8 L631.7,478.4 Q632,480.6 634.4,480.6 L653.2,480.6" stroke-width="1.03"/>
<line x1="503.8" y1="477.9" x2="503.8" y2="480.6" stroke-width="0.92"/>
<line x1="653.2" y1="477.9" x2="653.2" y2="480.6" stroke-width="0.92"/>
<rect x="531" y="445.4" width="13" height="4.6" rx="1.2" stroke-width="1.03"/>
<line x1="535.2" y1="445.8" x2="535.2" y2="450" stroke-width="0.69"/>
<line x1="539.8" y1="445.8" x2="539.8" y2="450" stroke-width="0.69"/>
<rect x="531.9" y="464.4" width="11.2" height="5" stroke-width="1.03"/>
<line x1="535.5" y1="464.4" x2="535.5" y2="469.4" stroke-width="0.69"/>
<line x1="539.5" y1="464.4" x2="539.5" y2="469.4" stroke-width="0.69"/>
<line x1="537.5" y1="443.5" x2="537.5" y2="471.5" stroke-width="0.69"/>
<rect x="612.9" y="445.4" width="13" height="4.6" rx="1.2" stroke-width="1.03"/>
<line x1="617.1" y1="445.8" x2="617.1" y2="450" stroke-width="0.69"/>
<line x1="621.7" y1="445.8" x2="621.7" y2="450" stroke-width="0.69"/>
<rect x="613.8" y="464.4" width="11.2" height="5" stroke-width="1.03"/>
<line x1="617.4" y1="464.4" x2="617.4" y2="469.4" stroke-width="0.69"/>
<line x1="621.4" y1="464.4" x2="621.4" y2="469.4" stroke-width="0.69"/>
<line x1="619.4" y1="443.5" x2="619.4" y2="471.5" stroke-width="0.69"/>
<line x1="512.4" y1="497.5" x2="644.5" y2="497.5" stroke-width="0.92"/>
<polygon class="a" points="512.4,497.5 523.4,495.75 523.4,499.25"/>
<polygon class="a" points="644.5,497.5 633.5,499.25 633.5,495.75"/>
<text font-size="11.5" transform="translate(578.5 495.6) scale(0.86 1)" text-anchor="middle">290</text>
<line x1="512.4" y1="471" x2="512.4" y2="502.6" stroke-width="0.92"/>
<line x1="644.5" y1="471" x2="644.5" y2="502.6" stroke-width="0.92"/>
<line x1="503.8" y1="512.8" x2="653.2" y2="512.8" stroke-width="0.92"/>
<polygon class="a" points="503.8,512.8 514.8,511.05 514.8,514.55"/>
<polygon class="a" points="653.2,512.8 642.2,514.55 642.2,511.05"/>
<text font-size="11.5" transform="translate(578.5 510.9) scale(0.86 1)" text-anchor="middle">330</text>
<line x1="503.8" y1="480.6" x2="503.8" y2="518" stroke-width="0.92"/>
<line x1="653.2" y1="480.6" x2="653.2" y2="518" stroke-width="0.92"/>
<line x1="661.4" y1="419" x2="661.4" y2="472.5" stroke-width="0.92"/>
<polygon class="a" points="661.4,435.3 659.65,424.3 663.15,424.3"/>
<polygon class="a" points="661.4,458.5 663.15,469.5 659.65,469.5"/>
<text font-size="11.5" transform="translate(660 447) rotate(-90) scale(0.86 1)" text-anchor="middle">50</text>
<line x1="632" y1="458.5" x2="666.5" y2="458.5" stroke-width="0.92"/>
<line x1="682.3" y1="435.3" x2="682.3" y2="481" stroke-width="0.92"/>
<polygon class="a" points="682.3,435.3 684.05,446.3 680.55,446.3"/>
<polygon class="a" points="682.3,481 680.55,470 684.05,470"/>
<text font-size="11.5" transform="translate(681 458) rotate(-90) scale(0.86 1)" text-anchor="middle">97</text>
<line x1="653.2" y1="481" x2="687.4" y2="481" stroke-width="0.92"/>
<line x1="616.3" y1="410.3" x2="642.6" y2="410.3" stroke-width="0.92"/>
<line x1="616.3" y1="410.3" x2="579.5" y2="434.7" stroke-width="0.92"/>
<text font-size="11.5" transform="translate(616.6 409.1) scale(0.86 1)">DN32</text>
<line x1="471.6" y1="465.1" x2="509.5" y2="465.1" stroke-width="0.92"/>
<line x1="509.5" y1="465.1" x2="512.4" y2="477.9" stroke-width="0.92"/>
<text font-size="11.5" transform="translate(475.4 463.9) scale(0.9 1)" letter-spacing="0.35">4×Ø14</text>
</g>
<g class="dims">
<line x1="212.9" y1="75.4" x2="366.4" y2="75.4" stroke-width="0.92"/>
<polygon class="a" points="212.9,75.4 223.9,73.65 223.9,77.15"/>
<polygon class="a" points="366.4,75.4 355.4,77.15 355.4,73.65"/>
<text font-size="11.5" transform="translate(290 73.6) scale(0.86 1)" text-anchor="middle">500</text>
<line x1="212.9" y1="123.1" x2="259.4" y2="123.1" stroke-width="0.92"/>
<polygon class="a" points="212.9,123.1 223.9,121.35 223.9,124.85"/>
<polygon class="a" points="259.4,123.1 248.4,124.85 248.4,121.35"/>
<text font-size="11.5" transform="translate(235.8 122.4) scale(0.86 1)" text-anchor="middle">D2</text>
<line x1="259.4" y1="118" x2="259.4" y2="207.5" stroke-width="0.92"/>
<line x1="181.2" y1="145.8" x2="243.3" y2="145.8" stroke-width="0.92"/>
<polygon class="a" points="181.2,145.8 192.2,144.05 192.2,147.55"/>
<polygon class="a" points="243.3,145.8 232.3,147.55 232.3,144.05"/>
<text font-size="11.5" transform="translate(203 144.6) scale(0.86 1)" text-anchor="middle">D1</text>
<line x1="181.2" y1="138.6" x2="181.2" y2="158" stroke-width="0.92"/>
<line x1="243.3" y1="138.6" x2="243.3" y2="158" stroke-width="0.92"/>
<line x1="112.1" y1="155.6" x2="112.1" y2="459.8" stroke-width="0.92"/>
<polygon class="a" points="112.1,155.6 113.85,166.6 110.35,166.6"/>
<polygon class="a" points="112.1,459.8 110.35,448.8 113.85,448.8"/>
<text font-size="11.5" transform="translate(109.6 308) rotate(-90) scale(0.86 1)" text-anchor="middle">H</text>
<line x1="106.4" y1="155.6" x2="205" y2="155.6" stroke-width="0.92"/>
<line x1="106.4" y1="459.8" x2="177.5" y2="459.8" stroke-width="0.92"/>
<line x1="130.9" y1="155.6" x2="130.9" y2="436.4" stroke-width="0.92"/>
<polygon class="a" points="130.9,155.6 132.65,166.6 129.15,166.6"/>
<polygon class="a" points="130.9,256.4 129.15,245.4 132.65,245.4"/>
<polygon class="a" points="130.9,256.4 132.65,267.4 129.15,267.4"/>
<polygon class="a" points="130.9,436.4 129.15,425.4 132.65,425.4"/>
<text font-size="11.5" transform="translate(127.4 206.4) rotate(-90) scale(0.86 1)" text-anchor="middle">H2</text>
<text font-size="11.5" transform="translate(127.4 345) rotate(-90) scale(0.86 1)" text-anchor="middle">H1</text>
<line x1="125" y1="256.4" x2="182.4" y2="256.4" stroke-width="0.92"/>
<line x1="126" y1="436.4" x2="164.4" y2="436.4" stroke-width="0.92"/>
<polygon class="a" points="164.2,436.4 153.2,438.15 153.2,434.65"/>
<text font-size="11.5" transform="translate(143.6 435.2) scale(0.86 1)" text-anchor="middle">K</text>
<text font-size="10" transform="translate(142.3 448.9)" text-anchor="middle">进口</text>
<line x1="164.4" y1="394.6" x2="414" y2="394.6" stroke-width="0.92"/>
<polygon class="a" points="164.4,394.6 175.4,392.85 175.4,396.35"/>
<polygon class="a" points="414,394.6 403,396.35 403,392.85"/>
<text font-size="11.5" transform="translate(290.1 393.3) scale(0.86 1)" text-anchor="middle">710</text>
<line x1="164.4" y1="389" x2="164.4" y2="426" stroke-width="0.92"/>
<line x1="414" y1="389" x2="414" y2="426" stroke-width="0.92"/>
<line x1="260.4" y1="412.4" x2="319.2" y2="412.4" stroke-width="0.92"/>
<polygon class="a" points="260.4,412.4 271.4,410.65 271.4,414.15"/>
<polygon class="a" points="319.2,412.4 308.2,414.15 308.2,410.65"/>
<text font-size="11.5" transform="translate(290.1 411.3) scale(0.86 1)" text-anchor="middle">289</text>
<line x1="260.4" y1="407" x2="260.4" y2="454" stroke-width="0.92"/>
<line x1="319.2" y1="407" x2="319.2" y2="454" stroke-width="0.92"/>
<line x1="146.5" y1="497.4" x2="398.2" y2="497.4" stroke-width="0.92"/>
<polygon class="a" points="163.2,497.4 152.2,499.15 152.2,495.65"/>
<polygon class="a" points="181.2,497.4 192.2,495.65 192.2,499.15"/>
<polygon class="a" points="398.2,497.4 387.2,499.15 387.2,495.65"/>
<text font-size="11.5" transform="translate(172.4 496) scale(0.86 1)" text-anchor="middle">50</text>
<text font-size="11.5" transform="translate(290.1 496) scale(0.86 1)" text-anchor="middle">640</text>
<line x1="181.2" y1="471" x2="181.2" y2="503" stroke-width="0.92"/>
<line x1="398.2" y1="472" x2="398.2" y2="503" stroke-width="0.92"/>
<line x1="163.2" y1="513.1" x2="421" y2="513.1" stroke-width="0.92"/>
<polygon class="a" points="163.2,513.1 174.2,511.35 174.2,514.85"/>
<polygon class="a" points="421,513.1 410,514.85 410,511.35"/>
<text font-size="11.5" transform="translate(290.1 511.6) scale(0.86 1)" text-anchor="middle">740</text>
<line x1="163.2" y1="481" x2="163.2" y2="518.6" stroke-width="0.92"/>
<line x1="421" y1="481" x2="421" y2="518.6" stroke-width="0.92"/>
<line x1="332.8" y1="94" x2="400.4" y2="94" stroke-width="0.92"/>
<polygon class="a" points="332.8,94 343.8,92.25 343.8,95.75"/>
<polygon class="a" points="400.4,94 389.4,95.75 389.4,92.25"/>
<text font-size="11.5" transform="translate(356 91.2) scale(0.86 1)" text-anchor="middle">190</text>
<line x1="332.8" y1="87.8" x2="332.8" y2="118" stroke-width="0.92"/>
<line x1="400.4" y1="87.8" x2="400.4" y2="118" stroke-width="0.92"/>
<line x1="366.4" y1="110.1" x2="417.4" y2="110.1" stroke-width="0.92"/>
<polygon class="a" points="366.4,110.1 377.4,108.35 377.4,111.85"/>
<polygon class="a" points="417.4,110.1 406.4,111.85 406.4,108.35"/>
<text font-size="11.5" transform="translate(389 108.2) scale(0.86 1)" text-anchor="middle">155</text>
<line x1="417.4" y1="103.8" x2="417.4" y2="170" stroke-width="0.92"/>
<line x1="435.7" y1="114.6" x2="435.7" y2="226.4" stroke-width="0.92"/>
<polygon class="a" points="435.7,114.6 437.45,125.6 433.95,125.6"/>
<polygon class="a" points="435.7,226.4 433.95,215.4 437.45,215.4"/>
<text font-size="11.5" transform="translate(434 169.5) rotate(-90) scale(0.86 1)" text-anchor="middle">290</text>
<line x1="398" y1="226.4" x2="442" y2="226.4" stroke-width="0.92"/>
<line x1="452.1" y1="114.6" x2="452.1" y2="481.2" stroke-width="0.92"/>
<polygon class="a" points="452.1,114.6 453.85,125.6 450.35,125.6"/>
<polygon class="a" points="452.1,481.2 450.35,470.2 453.85,470.2"/>
<text font-size="11.5" transform="translate(449.6 298) rotate(-90) scale(0.86 1)" text-anchor="middle">1390</text>
<line x1="366.4" y1="114.6" x2="457.8" y2="114.6" stroke-width="0.92"/>
<line x1="421" y1="481.2" x2="457.8" y2="481.2" stroke-width="0.92"/>
<line x1="400.6" y1="436.4" x2="447.5" y2="436.4" stroke-width="0.92"/>
<polygon class="a" points="447.5,436.4 436.5,438.15 436.5,434.65"/>
<text font-size="10" transform="translate(426.8 448)" text-anchor="middle">出口</text>
<line x1="254.4" y1="349.2" x2="290.4" y2="349.2" stroke-width="0.92"/>
<line x1="254.4" y1="349.2" x2="230.5" y2="369.9" stroke-width="0.92"/>
<polygon class="a" points="230.5,369.9 237.67,361.38 239.96,364.02"/>
<text font-size="11.5" transform="translate(255.8 347.4) scale(0.88 1)">CDMF1</text>
<line x1="410" y1="349.2" x2="443.2" y2="349.2" stroke-width="0.92"/>
<line x1="410" y1="349.2" x2="380.7" y2="367.3" stroke-width="0.92"/>
<polygon class="a" points="380.7,367.3 389.14,360.03 390.98,363.01"/>
<text font-size="11.5" transform="translate(400.9 347.3) scale(0.9 1)" letter-spacing="0.2">CMH1-40</text>
<line x1="412.8" y1="279.9" x2="429.8" y2="279.9" stroke-width="0.92"/>
<line x1="412.8" y1="279.9" x2="377" y2="268.6" stroke-width="0.92"/>
<polygon class="a" points="377,268.6 377.53,266.93 376.47,270.27"/>
<line x1="412.8" y1="279.9" x2="429.8" y2="279.9" stroke-width="1.72"/>
<text font-size="10.8" transform="translate(415 276) scale(0.95 1)">G</text>
<text font-size="7.2" transform="translate(425.7 271.4) scale(0.9 1)" text-anchor="middle">1</text>
<text font-size="7.2" transform="translate(425.9 277.8) scale(0.9 1)" text-anchor="middle">2</text>
<line x1="423.8" y1="272.2" x2="427.8" y2="272.2" stroke-width="0.69"/>
<line x1="424.9" y1="409.2" x2="441.4" y2="409.2" stroke-width="0.92"/>
<line x1="424.9" y1="409.2" x2="370.5" y2="435.4" stroke-width="0.92"/>
<polygon class="a" points="370.5,435.4 377.87,429.96 379.35,433.03"/>
<line x1="424.9" y1="409.2" x2="441.4" y2="409.2" stroke-width="1.72"/>
<text font-size="10.8" transform="translate(427.1 405.3) scale(0.95 1)">G</text>
<text font-size="7.2" transform="translate(437.8 400.7) scale(0.9 1)" text-anchor="middle">1</text>
<text font-size="7.2" transform="translate(438 407.1) scale(0.9 1)" text-anchor="middle">2</text>
<line x1="435.9" y1="401.5" x2="439.9" y2="401.5" stroke-width="0.69"/>
</g>
</g>
</svg>
</body>
</html>
